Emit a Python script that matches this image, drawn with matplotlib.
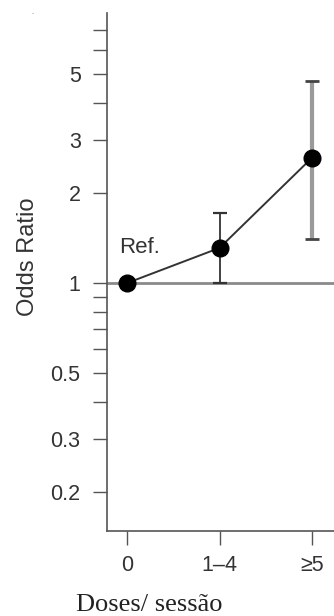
import matplotlib
matplotlib.use("Agg")
import matplotlib.pyplot as plt
import numpy as np

categories = ["0", "1\u20134", "\u22655"]
odds = [1.0, 1.31, 2.62]
ci_low = [1.0, 1.0, 1.40]
ci_high = [1.0, 1.71, 4.74]

y_ticks = [0.2, 0.3, 0.4, 0.5, 0.6, 0.7, 0.8, 0.9, 1, 2, 3, 4, 5, 6, 7]
y_labels = ["0.2", "0.3", "", "0.5", "", "", "", "", "1", "2", "3", "", "5", "", ""]

plt.rcParams["font.family"] = ["Liberation Sans", "DejaVu Sans"]

fig = plt.figure(figsize=(3.34, 6.16), dpi=100)
ax = fig.add_axes([107 / 334, 85 / 616, 1 - 107 / 334, (531 - 13) / 616])

x = np.arange(len(categories))
ax.axhline(1, color="#8a8a8a", lw=2, zorder=1)
ax.plot(x, odds, color="#333333", lw=1.4, zorder=2)

# error bars: second one drawn lighter and thicker as in the source
ax.errorbar(x[1], odds[1], yerr=[[odds[1] - ci_low[1]], [ci_high[1] - odds[1]]],
            fmt="none", ecolor="#333333", elinewidth=1.3, capsize=4.7, capthick=1.6, zorder=2)
ax.vlines(x[2], ci_low[2], ci_high[2], color="#9a9a9a", lw=3, zorder=2)
ax.errorbar(x[2], odds[2], yerr=[[odds[2] - ci_low[2]], [ci_high[2] - odds[2]]],
            fmt="none", ecolor="#444444", elinewidth=0, capsize=4.7, capthick=2, zorder=2)
ax.plot(x, odds, "o", color="black", ms=12, zorder=3)

ax.set_yscale("log")
ax.set_ylim(0.148, 8.0)
ax.set_xlim(-0.22, 2.24)
ax.yaxis.set_minor_locator(matplotlib.ticker.NullLocator())
ax.set_yticks(y_ticks)
ax.set_yticklabels(y_labels)
ax.set_xticks(x)
ax.set_xticklabels(categories)

for s in ["top", "right"]:
    ax.spines[s].set_visible(False)
for s in ["left", "bottom"]:
    ax.spines[s].set_color("#555555")
    ax.spines[s].set_linewidth(1.2)

ax.tick_params(axis="y", length=10, width=1, color="#555555", pad=9,
               labelsize=15.5, labelcolor="#333333")
ax.tick_params(axis="x", length=10, width=1, color="#555555", pad=7,
               labelsize=15.5, labelcolor="#333333")

ax.text(-0.09, 1.31, "Ref.", fontsize=16, color="#333333", va="center", ha="left")
ax.set_ylabel("Odds Ratio", fontsize=17, color="#333333")
ax.yaxis.set_label_coords(-0.30, 0.53)

fig.text(149 / 334, 1 - 605 / 616, "Doses/ sess\u00e3o", fontsize=19,
         family=["Liberation Serif", "DejaVu Serif"], ha="center", va="center", color="#222222")
fig.text(33 / 334, 1 - 14 / 616, "-", fontsize=5, color="#999999", ha="center", va="center")

fig.savefig("out.png", dpi=100)
